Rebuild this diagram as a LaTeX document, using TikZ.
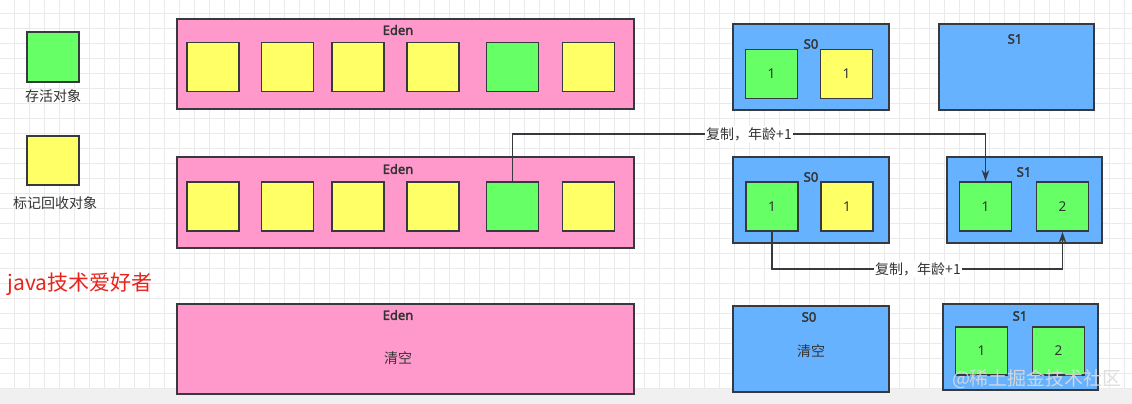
\documentclass[tikz,border=0pt]{standalone}
\usepackage{fontspec}
\setmainfont{Noto Sans}
\newfontfamily\cjk{Noto Sans CJK SC}
\newfontfamily\titlefont[FakeBold=2.2]{Noto Sans}
\usetikzlibrary{arrows.meta}
\definecolor{edenpink}{HTML}{FF99CC}
\definecolor{survblue}{HTML}{66B2FF}
\definecolor{objgreen}{HTML}{66FF66}
\definecolor{objyellow}{HTML}{FFFF66}
\definecolor{edge}{HTML}{36393D}
\definecolor{txt}{HTML}{333333}
\definecolor{gridc}{HTML}{EAEAEA}
\definecolor{redtxt}{HTML}{E8231B}
\tikzset{
  area/.style={draw=edge, line width=1.9pt, inner sep=0pt},
  edenbox/.style={area, fill=edenpink, minimum width=457pt, minimum height=90pt},
  survbox/.style={area, fill=survblue, minimum width=156pt, minimum height=86pt},
  obj/.style={draw=edge, line width=1.8pt, minimum width=52pt, minimum height=49pt, inner sep=0pt,
     font=\fontsize{13.5}{13.5}\selectfont, text=txt},
  live/.style={obj, fill=objgreen},
  dead/.style={obj, fill=objyellow},
  title/.style={font=\titlefont\fontsize{13}{13}\selectfont, text=txt},
  lbl/.style={font=\cjk\fontsize{14}{14}\selectfont, text=txt},
  arr/.style={draw=edge, line width=1.7pt, -{Stealth[length=11pt,width=7.5pt]}},
  arrlbl/.style={font=\cjk\fontsize{14}{14}\selectfont, text=txt, fill=white, inner sep=1pt}
}
\begin{document}
\begin{tikzpicture}[x=1pt,y=-1pt]
\useasboundingbox (0,0) rectangle (1132,404);
\fill[white] (0,0) rectangle (1132,404);
% grid
\foreach \k in {0,...,74} {\draw[gridc, line width=0.6pt] ({14+15*\k},0) -- ({14+15*\k},388);}
\foreach \k in {0,...,25} {\draw[gridc, line width=0.6pt] (0,{13+15*\k}) -- (1132,{13+15*\k});}
\fill[black!6] (0,389) rectangle (1132,404);

% legend
\node[live, minimum height=50pt] (lg) at (53,57) {};
\node[lbl] (lgt) at (53,96) {存活对象};
\node[dead] (ly) at (53,160.5) {};
\node[lbl] (lyt) at (55,203) {标记回收对象};
\node[font=\cjk\fontsize{21}{21}\selectfont, text=redtxt] (brand) at (80,284) {java技术爱好者};

% row 1
\node[edenbox] (e1) at (405.5,64) {};
\node[title] (e1t) at (398,30) {Eden};
\node[dead] (e1a) at (213,67) {};
\node[dead] (e1b) at (287.5,67) {};
\node[dead] (e1c) at (358,67) {};
\node[dead] (e1d) at (433,67) {};
\node[live] (e1e) at (512.5,67) {};
\node[dead] (e1f) at (588.5,67) {};

\node[survbox] (s0a) at (811,67) {};
\node[title] (s0at) at (811,44) {S0};
\node[live] (s0a1) at (771.5,74) {1};
\node[dead] (s0a2) at (846.5,74) {1};

\node[survbox, minimum width=155pt] (s1a) at (1016.5,67) {};
\node[title] (s1at) at (1015,39) {S1};

% row 2
\node[edenbox, minimum height=91pt] (e2) at (405.5,202.5) {};
\node[title] (e2t) at (398,169) {Eden};
\node[dead] (e2a) at (213,206.5) {};
\node[dead] (e2b) at (287.5,206.5) {};
\node[dead] (e2c) at (358,206.5) {};
\node[dead] (e2d) at (433,206.5) {};
\node[live] (e2e) at (512.5,206.5) {};
\node[dead] (e2f) at (588.5,206.5) {};

\node[survbox] (s0b) at (811,200) {};
\node[title] (s0bt) at (811,177) {S0};
\node[live] (s0b1) at (772,206.5) {1};
\node[dead] (s0b2) at (847,206.5) {1};

\node[survbox, minimum width=155pt] (s1b) at (1024.5,200) {};
\node[title] (s1bt) at (1024,172) {S1};
\node[live] (s1b1) at (985.5,206.5) {1};
\node[live] (s1b2) at (1062.5,206.5) {2};

% arrows
\coordinate (r1) at (0,134);
\coordinate (r2) at (0,269);
\draw[arr] (e2e.north) -- (e2e.north |- r1) -- (s1b1.north |- r1) -- (s1b1.north);
\node[arrlbl] (l1) at (749,134) {复制，年龄+1};
\draw[arr] (s0b1.south) -- (s0b1.south |- r2) -- (s1b2.south |- r2) -- (s1b2.south);
\node[arrlbl] (l2) at (918,269) {复制，年龄+1};

% row 3
\node[edenbox] (e3) at (405.5,349) {};
\node[title] (e3t) at (398,315) {Eden};
\node[lbl] (e3c) at (398,358) {清空};

\node[survbox] (s0c) at (811,349) {};
\node[title] (s0ct) at (809,317) {S0};
\node[lbl] (s0cc) at (811,351) {清空};

\node[survbox, minimum width=155pt] (s1c) at (1020.5,347) {};
\node[title] (s1ct) at (1020,316) {S1};
\node[live, minimum height=48pt] (s1c1) at (981.5,351) {1};
\node[live, minimum height=48pt] (s1c2) at (1058.5,351) {2};

% watermark
\node[font=\cjk\fontsize{19}{19}\selectfont, text=white!72!gray, opacity=0.9] (wm) at (1037,379) {@稀土掘金技术社区};
\end{tikzpicture}
\end{document}
